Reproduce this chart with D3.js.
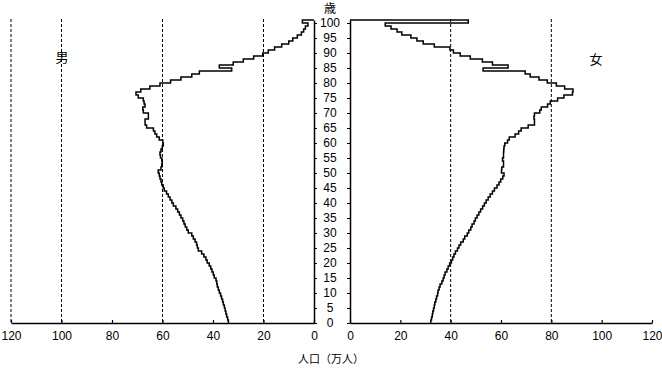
<!DOCTYPE html>
<html>
<head>
<meta charset="utf-8">
<script src="https://cdn.jsdelivr.net/npm/d3@7"></script>
<style>
  body { margin: 0; background: #fff; }
  svg { display: block; font-family: "Liberation Sans", "Noto Sans CJK JP", sans-serif; }
  .jp { font-family: "Noto Sans CJK JP", sans-serif; }
</style>
</head>
<body>
<svg id="chart" width="662" height="369"></svg>
<script>
// population by single age 0..99 and 100+ (万人)
const male = [
  33.9, 34.2, 34.6, 34.9, 35.2, 35.5, 35.9, 36.2, 36.6, 37.0,
  37.5, 37.9, 38.3, 38.5, 38.8, 39.5, 39.9, 40.4, 40.9, 41.5,
  42.3, 42.8, 43.6, 44.5, 45.8, 46.2, 46.5, 47.1, 47.8, 48.4,
  49.8, 50.4, 51.0, 51.5, 52.0, 52.7, 53.3, 54.0, 54.7, 55.7,
  56.3, 57.0, 57.7, 58.4, 59.3, 59.7, 60.3, 60.6, 61.0, 61.3,
  61.7, 60.6, 60.3, 60.1, 60.3, 60.8, 61.0, 60.6, 60.1, 59.7,
  59.9, 61.3, 62.3, 63.0, 63.6, 66.3, 66.9, 66.9, 65.6, 65.6,
  67.6, 67.8, 66.9, 67.3, 67.6, 69.6, 70.5, 68.6, 65.0, 61.0,
  56.8, 52.7, 48.4, 45.4, 32.6, 37.5, 32.0, 28.0, 23.9, 20.3,
  18.1, 15.6, 12.8, 10.0, 8.4, 6.6, 5.0, 4.1, 3.4, 2.4,
  4.6
];
const female = [
  32.1, 32.4, 32.7, 32.9, 33.2, 33.5, 33.7, 34.1, 34.4, 34.8,
  35.0, 35.4, 35.8, 36.5, 37.0, 37.4, 37.8, 38.5, 39.0, 39.6,
  40.3, 40.8, 41.3, 41.9, 42.7, 43.3, 44.0, 45.0, 45.6, 46.6,
  47.2, 48.0, 48.5, 49.3, 49.8, 50.5, 51.2, 51.9, 52.7, 53.4,
  54.1, 54.9, 55.7, 56.6, 57.4, 58.4, 59.2, 59.9, 60.7, 61.2,
  60.2, 60.3, 61.0, 61.0, 60.6, 61.0, 61.0, 61.1, 61.2, 61.5,
  62.6, 63.3, 65.6, 67.0, 68.0, 70.8, 73.3, 73.3, 73.1, 73.3,
  75.4, 76.0, 78.5, 79.6, 82.5, 85.0, 88.4, 88.6, 85.3, 82.0,
  78.4, 75.1, 71.6, 69.6, 52.9, 62.8, 56.6, 52.6, 47.8, 43.8,
  41.1, 39.7, 33.5, 29.1, 26.6, 24.2, 20.6, 18.7, 16.3, 14.0,
  47.0
];
const xTicks = [0, 20, 40, 60, 80, 100, 120];
const ageTicks = d3.range(0, 101, 5);
const maleGrid = [120, 100, 60, 20];
const femaleGrid = [40, 80];

const width = 662;
const height = 369;
const plotBottom = 323;
const plotTop = 20;

const svg = d3.select('#chart');

const y = d3.scaleLinear().domain([0, 101]).range([plotBottom, plotTop]);
const xMale = d3.scaleLinear().domain([0, 120]).range([314, 11]);
const xFemale = d3.scaleLinear().domain([0, 120]).range([350, 652]);

function drawGrid(x, values) {
  svg.append('g')
    .selectAll('line')
    .data(values)
    .join('line')
    .attr('x1', d => x(d))
    .attr('x2', d => x(d))
    .attr('y1', plotTop - 1)
    .attr('y2', plotBottom)
    .attr('stroke', '#000')
    .attr('stroke-width', 1)
    .attr('stroke-dasharray', '3,2');
}

function drawXAxis(x) {
  const g = svg.append('g')
    .attr('transform', `translate(0,${plotBottom})`)
    .call(d3.axisBottom(x).tickValues(xTicks).tickSize(-3).tickSizeOuter(0).tickPadding(8));
  g.select('.domain').attr('stroke-width', 1.5);
  g.selectAll('.tick line').attr('stroke-width', 1.2);
  g.selectAll('text').attr('font-size', 12).attr('font-family', null).attr('fill', '#000');
}

function drawPyramid(x, values) {
  // step outline: each age is a 1-year band, closed back to the axis at the top
  const pts = values.map((v, i) => [x(v), y(i)]);
  pts.push([x(0), y(101)]);
  svg.append('path')
    .datum(pts)
    .attr('fill', 'none')
    .attr('stroke', '#000')
    .attr('stroke-width', 1.5)
    .attr('d', d3.line().curve(d3.curveStepBefore));
}

drawGrid(xMale, maleGrid);
drawGrid(xFemale, femaleGrid);

drawXAxis(xMale);
drawXAxis(xFemale);

// vertical axes on the inner edges
const yl = svg.append('g')
  .attr('transform', `translate(${xMale(0)},0)`)
  .call(d3.axisRight(y).tickValues(ageTicks).tickSize(3).tickSizeOuter(0).tickFormat(''));
yl.select('.domain').attr('stroke-width', 1.5);

const yr = svg.append('g')
  .attr('transform', `translate(${xFemale(0)},0)`)
  .call(d3.axisLeft(y).tickValues(ageTicks).tickSize(3).tickSizeOuter(0).tickFormat(''));
yr.select('.domain').attr('stroke-width', 1.5);

// age labels between the two halves
svg.append('g')
  .selectAll('text')
  .data(ageTicks)
  .join('text')
  .attr('x', 330)
  .attr('y', d => y(d))
  .attr('dy', '0.36em')
  .attr('text-anchor', 'middle')
  .attr('font-size', 12)
  .text(d => d);

drawPyramid(xMale, male);
drawPyramid(xFemale, female);

svg.append('text')
  .attr('class', 'jp')
  .attr('x', 330)
  .attr('y', 9)
  .attr('dy', '0.36em')
  .attr('text-anchor', 'middle')
  .attr('font-size', 12)
  .text('歳');

svg.append('text')
  .attr('class', 'jp')
  .attr('x', 62)
  .attr('y', 57)
  .attr('dy', '0.36em')
  .attr('text-anchor', 'middle')
  .attr('font-size', 13)
  .text('男');

svg.append('text')
  .attr('class', 'jp')
  .attr('x', 596)
  .attr('y', 59)
  .attr('dy', '0.36em')
  .attr('text-anchor', 'middle')
  .attr('font-size', 13)
  .text('女');

svg.append('text')
  .attr('class', 'jp')
  .attr('x', 331)
  .attr('y', 359)
  .attr('dy', '0.36em')
  .attr('text-anchor', 'middle')
  .attr('font-size', 11)
  .text('人口（万人）');
</script>
</body>
</html>
